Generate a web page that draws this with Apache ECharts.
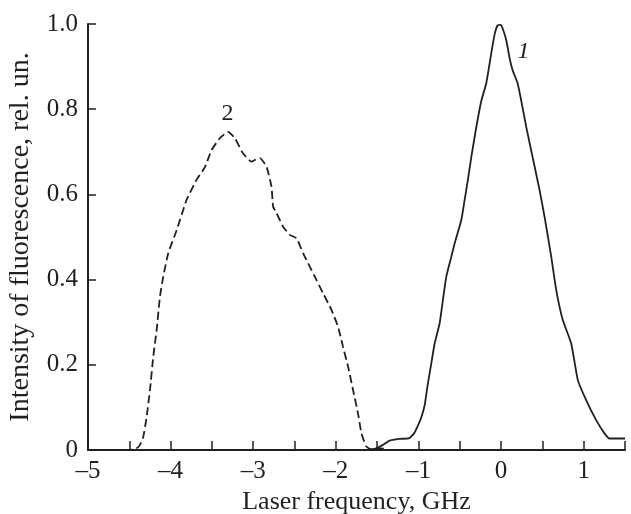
<!DOCTYPE html>
<html>
<head>
<meta charset="utf-8">
<script src="https://cdn.jsdelivr.net/npm/echarts@6/dist/echarts.min.js"></script>
<style>
  html, body { margin: 0; padding: 0; background: #fff; }
  #chart { width: 631px; height: 514px; }
</style>
</head>
<body>
<div id="chart"></div>
<script>
// curve 1 (solid), laser frequency in GHz vs relative intensity
const curve1X = [-1.61, -1.51, -1.43, -1.35, -1.23, -1.11, -1.05, -1.0, -0.96, -0.925,
  -0.885, -0.844, -0.804, -0.744, -0.704, -0.663, -0.602, -0.562, -0.481, -0.441,
  -0.405, -0.36, -0.3, -0.239, -0.179, -0.118, -0.079, -0.042, -0.006, 0.018,
  0.063, 0.103, 0.139, 0.2, 0.244, 0.305, 0.381, 0.466, 0.526, 0.607,
  0.667, 0.747, 0.849, 0.929, 1.03, 1.151, 1.252, 1.312, 1.5]
const curve1Y = [0, 0.004, 0.012, 0.022, 0.026, 0.028, 0.04, 0.06, 0.08, 0.105,
  0.157, 0.204, 0.25, 0.297, 0.352, 0.407, 0.454, 0.485, 0.54, 0.587,
  0.63, 0.688, 0.758, 0.82, 0.861, 0.932, 0.975, 0.997, 0.998, 0.99,
  0.962, 0.92, 0.892, 0.861, 0.82, 0.758, 0.688, 0.61, 0.548, 0.454,
  0.376, 0.305, 0.25, 0.164, 0.117, 0.07, 0.039, 0.027, 0.027]

// curve 2 (dashed)
const curve2X = [-4.85, -4.53, -4.456, -4.411, -4.371, -4.331, -4.29, -4.25, -4.21, -4.169,
  -4.129, -4.089, -4.029, -3.927, -3.807, -3.686, -3.585, -3.504, -3.404, -3.304,
  -3.222, -3.126, -3.021, -2.969, -2.92, -2.839, -2.779, -2.759, -2.718, -2.638,
  -2.557, -2.476, -2.397, -2.355, -2.255, -2.155, -2.053, -1.973, -1.913, -1.852,
  -1.792, -1.732, -1.69, -1.63, -1.55, -1.47, -1.37]
const curve2Y = [0, 0, 0.001, 0.004, 0.012, 0.031, 0.078, 0.141, 0.219, 0.282,
  0.36, 0.407, 0.462, 0.516, 0.587, 0.634, 0.664, 0.704, 0.732, 0.747,
  0.732, 0.697, 0.677, 0.682, 0.685, 0.665, 0.618, 0.571, 0.556, 0.524,
  0.505, 0.497, 0.462, 0.446, 0.407, 0.368, 0.329, 0.289, 0.242, 0.196,
  0.141, 0.086, 0.039, 0.008, 0, 0.004, 0.002]

const curveLabels = [
  { text: '1', x: 0.27, y: 0.934, italic: true },
  { text: '2', x: -3.31, y: 0.79, italic: false }
]

const font = 'Liberation Serif'
const ink = '#231f20'

function pairs (xs, ys) {
  return xs.map((x, i) => [x, ys[i]])
}

function tag (item) {
  return {
    symbol: 'circle',
    symbolSize: 0,
    silent: true,
    data: [{
      coord: [item.x, item.y],
      label: {
        show: true,
        formatter: item.text,
        position: 'inside',
        color: ink,
        fontFamily: font,
        fontSize: 24,
        fontStyle: item.italic ? 'italic' : 'normal'
      }
    }]
  }
}

const chart = echarts.init(document.getElementById('chart'))
chart.setOption({
  animation: false,
  backgroundColor: '#fff',
  grid: { left: 88, right: 6, top: 24, bottom: 64, containLabel: false, outerBoundsMode: 'none' },
  xAxis: {
    type: 'value',
    min: -5,
    max: 1.5,
    interval: 0.5,
    name: 'Laser frequency, GHz',
    nameLocation: 'middle',
    nameGap: 37,
    nameTextStyle: { fontFamily: font, fontSize: 26, color: ink },
    axisLine: { onZero: false, lineStyle: { color: ink, width: 2 } },
    axisTick: { show: true, inside: true, length: 9, lineStyle: { color: ink, width: 1.5 } },
    axisLabel: {
      fontFamily: font,
      fontSize: 25,
      color: ink,
      margin: 9,
      formatter: v => Number.isInteger(v) ? String(v).replace('-', '\u2013') : ''
    },
    splitLine: { show: false }
  },
  yAxis: {
    type: 'value',
    min: 0,
    max: 1,
    interval: 0.2,
    name: 'Intensity of fluorescence, rel. un.',
    nameLocation: 'middle',
    nameGap: 53,
    nameTextStyle: { fontFamily: font, fontSize: 28, color: ink },
    axisLine: { show: true, onZero: false, lineStyle: { color: ink, width: 2 } },
    axisTick: { show: true, inside: true, length: 8, lineStyle: { color: ink, width: 1.5 } },
    axisLabel: {
      fontFamily: font,
      fontSize: 25,
      color: ink,
      margin: 10,
      formatter: v => v === 0 ? '0' : v.toFixed(1)
    },
    splitLine: { show: false }
  },
  series: [
    {
      type: 'line',
      data: pairs(curve1X, curve1Y),
      showSymbol: false,
      smooth: 0.15,
      lineStyle: { color: ink, width: 1.8 },
      markPoint: tag(curveLabels[0])
    },
    {
      type: 'line',
      data: pairs(curve2X, curve2Y),
      showSymbol: false,
      smooth: 0.15,
      lineStyle: { color: ink, width: 1.8, type: [8, 4] },
      markPoint: tag(curveLabels[1])
    }
  ]
})
</script>
</body>
</html>
